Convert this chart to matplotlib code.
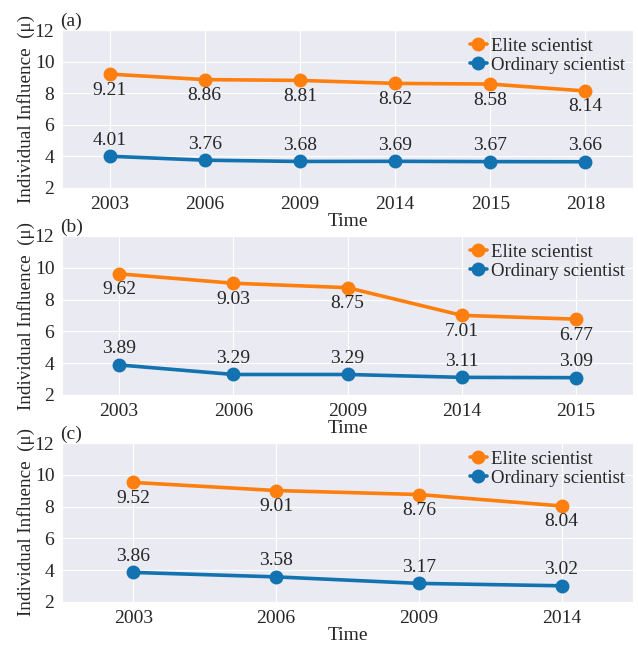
import matplotlib
matplotlib.use("Agg")
import matplotlib.pyplot as plt
import seaborn as sns

sns.set_style("darkgrid")
plt.rcParams["font.family"] = ["Liberation Serif", "DejaVu Serif"]

years_a = ["2003", "2006", "2009", "2014", "2015", "2018"]
elite_a = [9.21, 8.86, 8.81, 8.62, 8.58, 8.14]
ordinary_a = [4.01, 3.76, 3.68, 3.69, 3.67, 3.66]

years_b = ["2003", "2006", "2009", "2014", "2015"]
elite_b = [9.62, 9.03, 8.75, 7.01, 6.77]
ordinary_b = [3.89, 3.29, 3.29, 3.11, 3.09]

years_c = ["2003", "2006", "2009", "2014"]
elite_c = [9.52, 9.01, 8.76, 8.04]
ordinary_c = [3.86, 3.58, 3.17, 3.02]

panels = [
    ("(a)", years_a, elite_a, ordinary_a),
    ("(b)", years_b, elite_b, ordinary_b),
    ("(c)", years_c, elite_c, ordinary_c),
]

ORANGE = "#ff7f0e"
BLUE = "#1372b0"
TXT = "#262626"

W, H = 638, 646
fig = plt.figure(figsize=(W / 100, H / 100), dpi=100)

# axes boxes in pixels: (left, top, right, bottom)
boxes = [(62, 30, 633, 188), (62, 236, 633, 395), (62, 443, 633, 602)]

for (tag, years, elite, ordinary), (l, t, r, b) in zip(panels, boxes):
    ax = fig.add_axes([l / W, 1 - b / H, (r - l) / W, (b - t) / H])
    x = list(range(len(years)))
    ax.plot(x, elite, color=ORANGE, lw=2.6, marker="o", ms=9, label="Elite scientist")
    ax.plot(x, ordinary, color=BLUE, lw=2.6, marker="o", ms=9, label="Ordinary scientist")
    for xi, v in zip(x, elite):
        ax.annotate(f"{v:.2f}", (xi, v), xytext=(0, -11.5), textcoords="offset points",
                    ha="center", va="center", fontsize=14, color=TXT)
    for xi, v in zip(x, ordinary):
        ax.annotate(f"{v:.2f}", (xi, v), xytext=(0, 11.5), textcoords="offset points",
                    ha="center", va="center", fontsize=14, color=TXT)
    ax.set_xlim(-0.5, len(years) - 0.5)
    ax.set_ylim(2, 12)
    ax.set_yticks([2, 4, 6, 8, 10, 12])
    ax.set_xticks(x)
    ax.set_xticklabels(years)
    ax.tick_params(labelsize=14, colors=TXT, pad=2)
    ax.set_xlabel("Time", fontsize=14, labelpad=0, color=TXT)
    ax.set_ylabel("Individual Influence  (\u03bc)", fontsize=13.8, labelpad=0, color=TXT)
    ax.text(-0.004, 1.0, tag, transform=ax.transAxes, ha="left", va="bottom",
            fontsize=14, color=TXT)
    ax.legend(loc="upper right", frameon=False, fontsize=13.5, handlelength=0.9,
              handletextpad=0.25, labelspacing=0.1, borderaxespad=0.15,
              borderpad=0.25)

fig.savefig("out.png", dpi=100)
